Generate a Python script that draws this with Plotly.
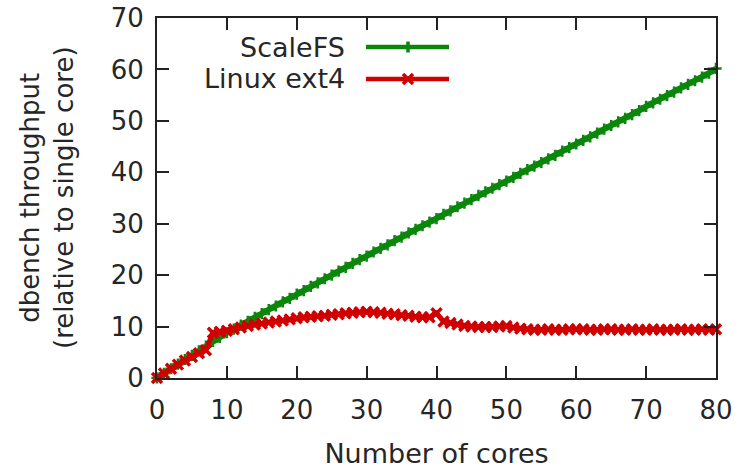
import plotly.graph_objects as go

cores = list(range(0, 81))

scalefs = [0.0, 0.9, 1.8, 2.7, 3.6, 4.4, 5.3, 6.2, 7.1, 7.9,
           8.8, 9.5, 10.3, 11.0, 11.8, 12.5, 13.3, 14.0, 14.8, 15.5,
           16.3, 17.0, 17.8, 18.5, 19.3, 20.0, 20.8, 21.5, 22.3, 23.0,
           23.7, 24.5, 25.2, 25.9, 26.7, 27.4, 28.2, 28.9, 29.6, 30.3,
           31.0, 31.8, 32.5, 33.3, 34.0, 34.7, 35.5, 36.2, 36.9, 37.6,
           38.3, 39.0, 39.8, 40.5, 41.2, 41.9, 42.6, 43.3, 44.1, 44.8,
           45.5, 46.2, 46.9, 47.6, 48.4, 49.1, 49.8, 50.5, 51.2, 52.0,
           52.8, 53.5, 54.2, 54.9, 55.6, 56.4, 57.1, 57.8, 58.5, 59.3,
           60.2]

ext4 = [0.0, 0.9, 1.8, 2.6, 3.4, 4.1, 4.8, 5.4, 8.8, 9.0,
        9.2, 9.5, 9.8, 10.1, 10.4, 10.6, 10.8, 11.0, 11.2, 11.4,
        11.6, 11.8, 11.9, 12.0, 12.1, 12.3, 12.4, 12.6, 12.7, 12.8,
        12.9, 12.8, 12.7, 12.5, 12.4, 12.2, 12.1, 11.9, 11.8, 11.8,
        12.6, 11.0, 10.7, 10.4, 10.1, 10.0, 9.9, 9.9, 9.9, 10.0,
        10.1, 9.8, 9.6, 9.5, 9.4, 9.4, 9.5, 9.4, 9.4, 9.5,
        9.5, 9.5, 9.4, 9.4, 9.5, 9.5, 9.4, 9.4, 9.5, 9.4,
        9.4, 9.5, 9.4, 9.4, 9.4, 9.5, 9.4, 9.4, 9.5, 9.4,
        9.5]

series_names = ["ScaleFS", "Linux ext4"]
x_ticks = [0, 10, 20, 30, 40, 50, 60, 70, 80]
y_ticks = [0, 10, 20, 30, 40, 50, 60, 70]

GREEN = "#0a870a"
RED = "#d00000"
TXT = "#262626"
FONT = "DejaVu Sans"

W, H = 740, 471
L, R, T, B = 157, 716, 18, 378

fig = go.Figure()
fig.add_trace(go.Scatter(
    x=cores, y=scalefs, mode="lines+markers", name=series_names[0],
    line=dict(color=GREEN, width=6),
    marker=dict(symbol="cross-thin", size=8, color=GREEN, line=dict(color=GREEN, width=2.5)),
    cliponaxis=False, showlegend=False))
fig.add_trace(go.Scatter(
    x=cores, y=ext4, mode="lines+markers", name=series_names[1],
    line=dict(color=RED, width=5),
    marker=dict(symbol="x-thin", size=10, color=RED, line=dict(color=RED, width=3.5)),
    cliponaxis=False, showlegend=False))

# manual legend (gnuplot style: text right, sample left)
def fx(px):
    return (px - L) / (R - L)

def fy(py):
    return (B - py) / (B - T)

legend_rows = [(series_names[0], GREEN, 47, "cross-thin", 8), (series_names[1], RED, 79, "x-thin", 10)]
for name, col, py, sym, sz in legend_rows:
    fig.add_trace(go.Scatter(
        x=[fx(366), fx(449)], y=[fy(py), fy(py)], mode="lines",
        line=dict(color=col, width=4.5), xaxis="x2", yaxis="y2",
        showlegend=False, hoverinfo="skip"))
    fig.add_trace(go.Scatter(
        x=[fx(408)], y=[fy(py)], mode="markers",
        marker=dict(symbol=sym, size=sz, color=col, line=dict(color=col, width=3.5)),
        xaxis="x2", yaxis="y2", showlegend=False, hoverinfo="skip"))
    fig.add_annotation(text=name, xref="paper", yref="paper", x=fx(347), y=fy(py),
                       xanchor="right", yanchor="middle", showarrow=False,
                       font=dict(family=FONT, size=27, color=TXT))

axis_common = dict(
    showline=True, linecolor="#222222", linewidth=2, mirror="ticks",
    ticks="inside", ticklen=12, tickwidth=1.5, tickcolor="#222222",
    showgrid=False, zeroline=False, automargin=False,
    tickfont=dict(family=FONT, size=26, color=TXT),
)

fig.update_layout(
    width=W, height=H,
    margin=dict(l=L, r=W - R, t=T, b=H - B),
    paper_bgcolor="white", plot_bgcolor="white",
    xaxis=dict(range=[0, 80], tickvals=x_ticks, ticklabelstandoff=8,
               title=dict(text="Number of cores", font=dict(family=FONT, size=27, color=TXT), standoff=20),
               **axis_common),
    yaxis=dict(range=[0, 70], tickvals=y_ticks, ticklabelstandoff=6, **axis_common),
    xaxis2=dict(overlaying="x", range=[0, 1], visible=False, fixedrange=True),
    yaxis2=dict(overlaying="y", range=[0, 1], visible=False, fixedrange=True),
)

fig.add_annotation(text="dbench throughput<br>(relative to single core)",
                   xref="paper", yref="paper", x=fx(47), y=fy(198),
                   xanchor="center", yanchor="middle", textangle=-90, showarrow=False,
                   font=dict(family=FONT, size=26, color=TXT))

fig.write_html("out.html")
